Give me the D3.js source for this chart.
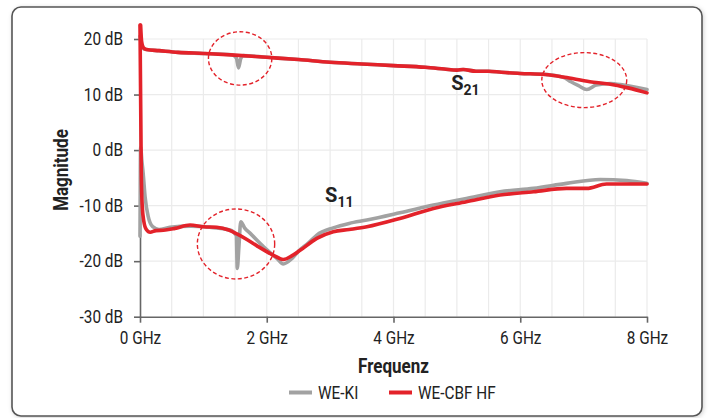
<!DOCTYPE html>
<html><head><meta charset="utf-8">
<script src="https://cdn.jsdelivr.net/npm/d3@7"></script>
<style>
body{margin:0;background:#fff}
text{font-family:"Liberation Sans Narrow","Arial Narrow","Roboto",sans-serif;fill:#222}
</style>
</head><body>
<svg id="c" width="710" height="418"></svg>
<script>
// ---- data (frequency in GHz, magnitude in dB) ----
const xTicks = [0, 2, 4, 6, 8];
const yTicks = [-30, -20, -10, 0, 10, 20];
const seriesNames = ["WE-KI", "WE-CBF HF"];

const kiS21 = [[0,20.5],[0.02,19.2],[0.05,18.3],[0.1,18.1],[0.3,17.9],[0.6,17.6],[1.0,17.4],[1.45,17.15],[1.52,16.6],[1.555,14.8],[1.59,16.5],[1.63,17.0],[2.0,16.7],[2.5,16.3],[3.0,15.8],[3.5,15.5],[4.0,15.2],[4.5,14.9],[4.8,14.6],[5.0,14.4],[5.1,14.5],[5.3,14.2],[5.5,14.2],[5.7,14.0],[6.0,13.8],[6.4,13.6],[6.68,13.1],[6.8,12.3],[6.92,11.6],[7.05,10.9],[7.2,11.7],[7.42,12.0],[7.63,11.7],[8.0,10.9]];
const cbfS21 = [[0.01,22.5],[0.025,19.6],[0.05,18.5],[0.1,18.1],[0.3,17.9],[0.6,17.6],[1.0,17.4],[1.5,17.1],[2.0,16.7],[2.5,16.3],[3.0,15.8],[3.5,15.5],[4.0,15.2],[4.5,14.9],[4.8,14.6],[5.0,14.4],[5.1,14.5],[5.3,14.2],[5.5,14.2],[5.7,14.0],[6.0,13.8],[6.4,13.6],[6.7,13.1],[7.1,12.3],[7.4,11.9],[7.7,11.2],[8.0,10.3]];
const kiS11 = [[0,-15.5],[0.01,0.5],[0.03,-2],[0.05,-4.2],[0.08,-8.4],[0.13,-12.0],[0.2,-13.8],[0.3,-14.3],[0.47,-13.9],[0.8,-13.7],[1.1,-13.9],[1.42,-14.4],[1.52,-15.4],[1.535,-21.3],[1.56,-17.5],[1.59,-12.9],[1.65,-14.0],[1.74,-15.0],[1.95,-17.4],[2.16,-19.5],[2.26,-20.5],[2.4,-19.5],[2.52,-18.0],[2.65,-16.8],[2.79,-15.3],[3.05,-14.0],[3.3,-13.2],[3.58,-12.6],[4.1,-11.3],[4.63,-9.9],[5.15,-8.7],[5.68,-7.5],[6.21,-6.9],[6.73,-6.0],[7.26,-5.3],[7.68,-5.5],[8.0,-6.0]];
const cbfS11 = [[0,22.5],[0.02,-4],[0.035,-10],[0.06,-12.8],[0.1,-14.3],[0.16,-14.8],[0.25,-14.5],[0.4,-14.4],[0.55,-14.1],[0.79,-13.5],[1.0,-13.8],[1.21,-13.9],[1.4,-14.4],[1.53,-15.1],[1.7,-16.2],[1.84,-17.2],[2.1,-18.9],[2.26,-19.7],[2.4,-19.0],[2.52,-18.1],[2.79,-15.9],[3.05,-14.7],[3.3,-14.3],[3.58,-13.8],[4.1,-12.3],[4.63,-10.5],[5.15,-9.3],[5.68,-8.1],[6.21,-7.5],[6.73,-6.9],[7.05,-6.9],[7.36,-6.1],[8.0,-6.1]];

// annotation ellipses: centre f, centre dB, radius GHz, radius dB
const marks = [[1.58,16.5,0.5,4.8],[7.01,12.6,0.67,4.95],[1.515,-16.9,0.61,6.3]];

const RED = "#e3222a", GRAY = "#a2a2a2";
const svg = d3.select("#c");

// frame
const defs = svg.append("defs");
const f = defs.append("filter").attr("id","sh").attr("x","-5%").attr("y","-5%").attr("width","110%").attr("height","110%");
f.append("feDropShadow").attr("dx",1).attr("dy",1).attr("stdDeviation",2).attr("flood-color","#000").attr("flood-opacity",0.18);
svg.append("rect").attr("x",12).attr("y",7).attr("width",690).attr("height",409).attr("rx",9)
  .attr("fill","#fff").attr("stroke","#555").attr("stroke-width",1.6).attr("filter","url(#sh)");

const x = d3.scaleLinear().domain([0,8]).range([140,647]);
const y = d3.scaleLinear().domain([-30,20]).range([316.7,39]);

// grid
const g = svg.append("g");
g.selectAll(".vg").data(d3.range(0.5,8.01,0.5)).join("line")
  .attr("x1",d=>x(d)).attr("x2",d=>x(d)).attr("y1",y(20)).attr("y2",y(-30))
  .attr("stroke","#ebebeb").attr("stroke-width",1.2);
g.selectAll(".hg").data(yTicks.filter(d=>d>-30)).join("line")
  .attr("x1",x(0)).attr("x2",x(8)).attr("y1",d=>y(d)).attr("y2",d=>y(d))
  .attr("stroke","#ebebeb").attr("stroke-width",1.2);

// axes
const ax = svg.append("g").attr("transform",`translate(0,${y(-30)})`)
  .call(d3.axisBottom(x).tickValues(xTicks).tickFormat(d=>d+" GHz").tickSize(6).tickSizeOuter(0).tickPadding(9));
const ay = svg.append("g").attr("transform",`translate(${x(0)},0)`)
  .call(d3.axisLeft(y).tickValues(yTicks).tickFormat(d=>d+" dB").tickSize(6).tickSizeOuter(0).tickPadding(11));
[ax,ay].forEach(a=>{
  a.selectAll("path,line").attr("stroke","#666").attr("stroke-width",1.6);
  a.selectAll("text").attr("class","cond").style("font-size","18px").attr("fill","#222");
});

// lines
const line = d3.line().x(d=>x(d[0])).y(d=>y(d[1])).curve(d3.curveMonotoneX);
const lg = svg.append("g").attr("fill","none").attr("stroke-width",3.6).attr("stroke-linejoin","round").attr("stroke-linecap","round");
[[kiS11,GRAY],[kiS21,GRAY],[cbfS11,RED],[cbfS21,RED]].forEach(([d,c])=>{
  lg.append("path").datum(d).attr("d",line).attr("stroke",c);
});

// ellipses
svg.selectAll(".el").data(marks).join("ellipse")
  .attr("cx",d=>x(d[0])).attr("cy",d=>y(d[1]))
  .attr("rx",d=>x(d[2])-x(0)).attr("ry",d=>y(0)-y(d[3]))
  .attr("fill","none").attr("stroke",RED).attr("stroke-width",1.4).attr("stroke-dasharray","4,2.5");

// S labels
function sLabel(fx, db, sub){
  const t = svg.append("text").attr("x",x(fx)).attr("y",y(db)).style("font-size","20px").style("font-weight","bold");
  t.append("tspan").text("S");
  t.append("tspan").attr("dy",5).style("font-size","14px").text(sub);
}
sLabel(4.91, 10.8, "21");
sLabel(2.92, -9.3, "11");

// titles
svg.append("text").attr("class","cond").attr("x",x(4)).attr("y",373).attr("text-anchor","middle")
  .style("font-size","20px").style("font-weight","bold").text("Frequenz");
svg.append("text").attr("class","cond").attr("transform",`translate(68,170) rotate(-90)`).attr("text-anchor","middle")
  .style("font-size","20px").style("font-weight","bold").text("Magnitude");

// legend
const leg = svg.append("g");
[[289,GRAY,seriesNames[0]],[389,RED,seriesNames[1]]].forEach(([lx,c,n])=>{
  leg.append("line").attr("x1",lx).attr("x2",lx+23).attr("y1",392.5).attr("y2",392.5).attr("stroke",c).attr("stroke-width",4);
  leg.append("text").attr("class","cond").attr("x",lx+29).attr("y",399).style("font-size","18px").text(n);
});

// condense text to mimic the narrow typeface
svg.selectAll("text.cond").each(function(){
  const l = this.getComputedTextLength();
  this.setAttribute("textLength", (l*0.85).toFixed(1));
  this.setAttribute("lengthAdjust","spacingAndGlyphs");
});
</script>
</body></html>
